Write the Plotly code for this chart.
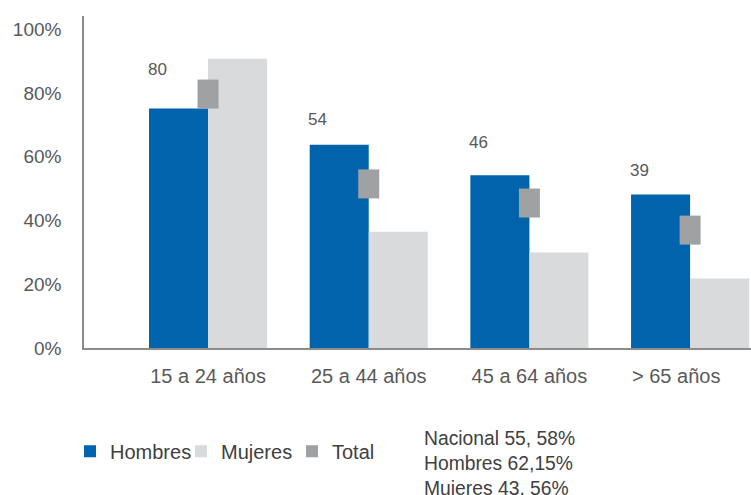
import plotly.graph_objects as go

categories = ["15 a 24 años", "25 a 44 años", "45 a 64 años", "> 65 años"]
hombres = [75.2, 63.8, 54.2, 48.2]
mujeres = [90.8, 36.5, 30.0, 21.8]
total = [79.7, 51.5, 45.5, 37.0]
total_labels = ["80", "54", "46", "39"]
label_heights = [87.3, 71.6, 64.5, 55.7]
y_ticks = [0, 20, 40, 60, 80, 100]
y_tick_labels = ["0%", "20%", "40%", "60%", "80%", "100%"]
note_lines = ["Nacional 55, 58%", "Hombres 62,15%", "Mujeres 43, 56%"]

BLUE = "#0063AC"
LIGHT = "#D9DADC"
GREY = "#A0A1A3"
TEXT = "#595959"
DARK = "#404040"
AXIS = "#8C8C8C"
FONT = "Liberation Sans, Arial, sans-serif"

W, H = 751, 495
L, T, B = 84, 16, 146.5
PW = W - L
PH = H - T - B

# last label is nudged inside the chart area, as in the reference
x_tick_text = categories[:-1] + [categories[-1] + "\u00a0" * 5]

fig = go.Figure()
fig.add_trace(go.Bar(x=categories, y=hombres, name="Hombres", marker_color=BLUE,
                     marker_line_width=0))
fig.add_trace(go.Bar(x=categories, y=mujeres, name="Mujeres", marker_color=LIGHT,
                     marker_line_width=0))
fig.add_trace(go.Scatter(x=categories, y=total, mode="markers", showlegend=False,
                         marker=dict(symbol="line-ns", size=20.7, color=GREY,
                                     line=dict(color=GREY, width=21))))
fig.add_trace(go.Scatter(x=[None], y=[None], mode="markers", name="Total",
                         marker=dict(symbol="square", size=12, color=GREY)))

for i, (lab, h) in enumerate(zip(total_labels, label_heights)):
    fig.add_annotation(x=categories[i], y=h, text=lab, showarrow=False,
                       xshift=-51, xanchor="center", yanchor="middle",
                       font=dict(family=FONT, size=17, color=TEXT))

fig.add_annotation(xref="paper", yref="paper", x=(422 - L) / PW, y=(H - B - 426.5) / PH,
                   xanchor="left", yanchor="top", align="left", showarrow=False,
                   text="<br>".join(note_lines),
                   font=dict(family=FONT, size=19.3, color=DARK))

fig.update_layout(
    width=W, height=H,
    margin=dict(l=L, r=0, t=T, b=B),
    paper_bgcolor="white", plot_bgcolor="white",
    barmode="group", bargap=0.265, bargroupgap=0,
    font=dict(family=FONT, color=TEXT),
    legend=dict(orientation="h", x=-14 / PW, xanchor="left", y=(H - B - 452) / PH,
                yanchor="middle",
                font=dict(family=FONT, size=20, color=DARK), traceorder="normal",
                entrywidth=66, entrywidthmode="pixels", itemclick=False),
    xaxis=dict(type="category", range=[-0.772, 3.379], showline=True, linecolor=AXIS,
               linewidth=1.5, ticks="", showgrid=False, zeroline=False,
               tickmode="array", tickvals=categories, ticktext=x_tick_text,
               tickfont=dict(family=FONT, size=20, color=TEXT), ticklabelstandoff=9),
    yaxis=dict(range=[0, 104.2], showline=True, linecolor=AXIS, linewidth=1.5,
               showgrid=False, zeroline=False, ticks="", tickmode="array",
               tickvals=y_ticks, ticktext=y_tick_labels,
               tickfont=dict(family=FONT, size=19, color=TEXT),
               ticklabelstandoff=17),
)

fig.write_html("out.html",
               config={"displayModeBar": False},
               post_script="document.body.style.margin='0';"
                           "document.body.style.overflow='hidden';")
